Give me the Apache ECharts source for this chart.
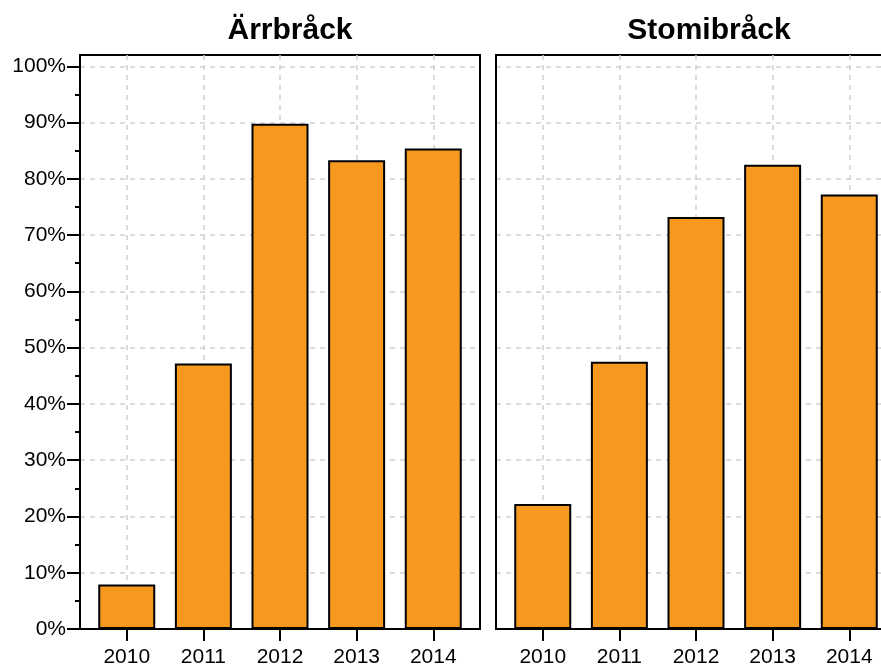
<!DOCTYPE html>
<html>
<head>
<meta charset="utf-8">
<script src="https://cdn.jsdelivr.net/npm/echarts@6/dist/echarts.min.js"></script>
<style>
  html, body { margin: 0; padding: 0; background: #fff; }
  #chart { width: 881px; height: 668px; }
</style>
</head>
<body>
<div id="chart"></div>
<script>
// panel titles and categories
const panels = ['Ärrbråck', 'Stomibråck'];
const years = ['2010', '2011', '2012', '2013', '2014'];
// share (%) per year
const arrbrack = [7.9, 47.2, 89.8, 83.3, 85.4];
const stomibrack = [22.2, 47.5, 73.2, 82.5, 77.2];
const yMajor = [0, 10, 20, 30, 40, 50, 60, 70, 80, 90, 100];
const yMinor = [5, 15, 25, 35, 45, 55, 65, 75, 85, 95];

const font = 'Liberation Sans, Arial, Helvetica, sans-serif';
const barColor = '#F7991F';
const gridLine = { show: true, lineStyle: { color: '#cfcfcf', width: 1.5, type: [5, 5] } };
const yearIdx = years.map((y, i) => i);

const chart = echarts.init(document.getElementById('chart'), null, { renderer: 'canvas' });

function xAxisFor(gridIndex) {
    return {
        type: 'value', gridIndex, position: 'bottom',
        min: -0.61, max: 4.61,
        axisLine: { show: true, onZero: false, lineStyle: { color: '#000', width: 2 } },
        axisTick: { show: true, customValues: yearIdx, length: 12, lineStyle: { color: '#000', width: 2 } },
        axisLabel: {
            customValues: yearIdx, margin: 18,
            color: '#000', fontSize: 21, fontFamily: font,
            formatter: v => years[Math.round(v)]
        },
        splitLine: gridLine
    };
}

function yAxisFor(gridIndex, withLabels) {
    return {
        type: 'value', gridIndex, position: 'left',
        min: 0, max: 102,
        axisLine: { show: true, onZero: false, lineStyle: { color: '#000', width: 2 } },
        axisTick: { show: withLabels, customValues: yMajor, length: 13, lineStyle: { color: '#000', width: 2 } },
        axisLabel: {
            show: withLabels, customValues: yMajor, margin: 14,
            color: '#000', fontSize: 21, fontFamily: font,
            formatter: v => v + '%'
        },
        splitLine: gridLine
    };
}

function minorAxisFor(gridIndex) {
    return {
        type: 'value', gridIndex, position: 'left',
        min: 0, max: 102,
        axisLine: { show: false, onZero: false },
        axisTick: { show: true, customValues: yMinor, length: 5, lineStyle: { color: '#000', width: 2 } },
        axisLabel: { show: false },
        splitLine: { show: false }
    };
}

const option = {
    animation: false,
    backgroundColor: '#fff',
    title: [
        { text: panels[0], left: 285, top: 11, textAlign: 'center',
          textStyle: { fontSize: 30, fontWeight: 'bold', color: '#000', fontFamily: font } },
        { text: panels[1], left: 704, top: 11, textAlign: 'center',
          textStyle: { fontSize: 30, fontWeight: 'bold', color: '#000', fontFamily: font } }
    ],
    grid: [
        { left: 80, width: 400, top: 55, bottom: 39, show: true, borderColor: '#000', borderWidth: 2,
          outerBoundsMode: 'none' },
        { left: 496, width: 400, top: 55, bottom: 39, show: true, borderColor: '#000', borderWidth: 2,
          outerBoundsMode: 'none' }
    ],
    xAxis: [xAxisFor(0), xAxisFor(1)],
    yAxis: [yAxisFor(0, true), yAxisFor(1, false), minorAxisFor(0)],
    series: [
        {
            type: 'bar', xAxisIndex: 0, yAxisIndex: 0, barWidth: 57,
            itemStyle: { color: barColor, borderColor: '#000', borderWidth: 2 },
            data: arrbrack.map((v, i) => [i, v])
        },
        {
            type: 'bar', xAxisIndex: 1, yAxisIndex: 1, barWidth: 57,
            itemStyle: { color: barColor, borderColor: '#000', borderWidth: 2 },
            data: stomibrack.map((v, i) => [i, v])
        }
    ]
};

chart.setOption(option);
</script>
</body>
</html>
